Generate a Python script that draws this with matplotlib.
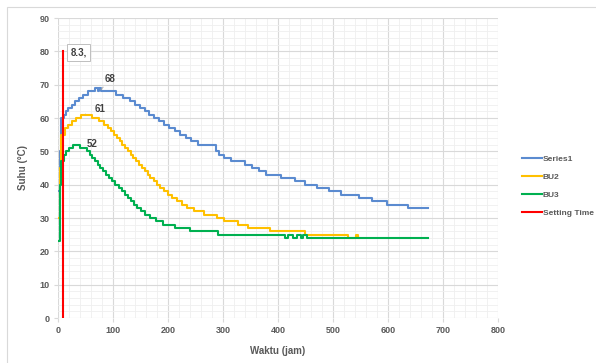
import matplotlib.pyplot as plt
from matplotlib.patches import Rectangle
from matplotlib.ticker import MultipleLocator

# time (jam) where temperature changes, and temperature (deg C) from there on
s1_t = [1, 3, 6, 10, 14, 19, 25, 31, 38, 46, 54, 68, 72, 75, 78, 105, 119, 130, 140, 149,
        158, 166, 175, 184, 193, 202, 212, 222, 232, 242, 254, 288, 293, 302, 315, 340,
        353, 365, 378, 406, 430, 449, 470, 492, 514, 548, 570, 598, 637, 672]
s1_y = [38, 50, 60, 61, 62, 63, 64, 65, 66, 67, 68, 69, 68, 69, 68, 67, 66, 65, 64, 63,
        62, 61, 60, 59, 58, 57, 56, 55, 54, 53, 52, 50, 49, 48, 47, 46,
        45, 44, 43, 42, 41, 40, 39, 38, 37, 36, 35, 34, 33, 33]

bu2_t = [1, 3, 6, 12, 18, 25, 33, 42, 62, 75, 83, 90, 96, 101, 107, 112, 117, 122, 127,
         132, 137, 142, 148, 153, 158, 163, 168, 174, 180, 186, 193, 200, 208, 216, 225,
         235, 248, 265, 289, 302, 327, 345, 386, 449, 527, 541, 545, 548]
bu2_y = [30, 45, 55, 57, 58, 59, 60, 61, 60, 59, 58, 57, 56, 55, 54, 53, 52, 51, 50,
         49, 48, 47, 46, 45, 44, 43, 42, 41, 40, 39, 38, 37, 36, 35, 34,
         33, 32, 31, 30, 29, 28, 27, 26, 25, 24, 25, 24, 24]

bu3_t = [1, 3, 6, 10, 14, 20, 27, 40, 52, 58, 62, 67, 72, 77, 82, 87, 93, 99, 104, 110,
         116, 122, 128, 133, 138, 144, 150, 158, 168, 178, 190, 213, 240, 290, 413, 419,
         428, 435, 441, 446, 452, 672]
bu3_y = [23, 40, 47, 49, 50, 51, 52, 51, 50, 49, 48, 47, 46, 45, 44, 43, 42, 41, 40, 39,
         38, 37, 36, 35, 34, 33, 32, 31, 30, 29, 28, 27, 26, 25, 24, 25,
         24, 25, 24, 25, 24, 24]

setting_t = [8.3, 8.3]
setting_y = [0, 80]

grey = '#595959'
plt.rcParams['font.family'] = ['Liberation Sans', 'DejaVu Sans']

fig = plt.figure(figsize=(5.96, 3.63), dpi=100)
fig.add_artist(Rectangle((7 / 596, -0.05), 1.0, 1.05 - 7 / 363, transform=fig.transFigure,
                         fill=False, edgecolor='#d9d9d9', lw=0.8))
ax = fig.add_axes([58 / 596, 1 - 318 / 363, 440 / 596, 300 / 363])

ax.step(s1_t, s1_y, where='post', color='#5b8bd0', lw=1.5, label='Series1')
ax.step(bu2_t, bu2_y, where='post', color='#ffc000', lw=1.5, label='BU2')
ax.step(bu3_t, bu3_y, where='post', color='#00b050', lw=1.5, label='BU3')
ax.plot(setting_t, setting_y, color='#ff0000', lw=1.5, label='Setting Time')

ax.set_xlim(0, 800)
ax.set_ylim(0, 90)
ax.xaxis.set_major_locator(MultipleLocator(100))
ax.xaxis.set_minor_locator(MultipleLocator(20))
ax.yaxis.set_major_locator(MultipleLocator(10))
ax.yaxis.set_minor_locator(MultipleLocator(2))
ax.grid(which='major', color='#d9d9d9', lw=0.8)
ax.grid(which='minor', color='#efefef', lw=0.6)
ax.set_axisbelow(True)
for sp in ax.spines.values():
    sp.set_visible(False)
ax.tick_params(which='major', length=3, color='#d9d9d9', labelsize=6.5, labelcolor=grey, pad=3)
ax.tick_params(which='minor', length=0)
for lab in ax.get_xticklabels() + ax.get_yticklabels():
    lab.set_fontweight('bold')

ax.set_xlabel('Waktu (jam)', fontsize=7, fontweight='bold', color=grey, labelpad=8)
ax.set_ylabel('Suhu (°C)', fontsize=7, fontweight='bold', color=grey, labelpad=8)

# data labels
ax.annotate('68', xy=(78, 68.5), xytext=(95, 71.6), fontsize=7, fontweight='bold',
            color='#404040', ha='center', va='center',
            arrowprops=dict(arrowstyle='-', color='#a6a6a6', lw=0.6, shrinkA=3, shrinkB=0))
ax.annotate('61', xy=(50, 61.2), xytext=(77, 62.6), fontsize=7, fontweight='bold',
            color='#404040', ha='center', va='center',
            arrowprops=dict(arrowstyle='-', color='#a6a6a6', lw=0.6, shrinkA=5, shrinkB=0))
ax.text(62, 52.3, '52', fontsize=7, fontweight='bold', color='#404040', ha='center', va='center')
ax.text(38, 79.6, '8.3,', fontsize=7, fontweight='bold', color='#404040', ha='center', va='center',
        bbox=dict(boxstyle='square,pad=0.35', fc='white', ec='#bfbfbf', lw=0.7))

leg = ax.legend(loc='center left', bbox_to_anchor=(1.045, 0.44), frameon=False, fontsize=6,
                handlelength=2.4, handletextpad=0.1, labelspacing=1.2, borderpad=0)
for t in leg.get_texts():
    t.set_color(grey)
    t.set_fontweight('bold')

fig.savefig('out.png', dpi=100)
